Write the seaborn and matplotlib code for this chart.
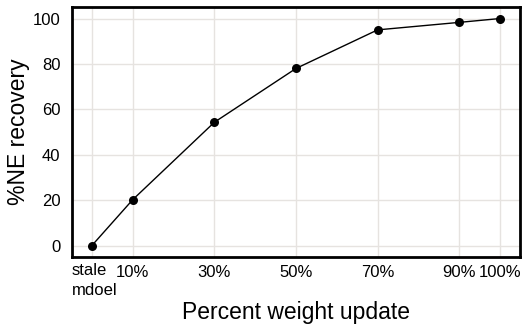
import numpy as np
import pandas as pd
import seaborn as sns
import matplotlib.pyplot as plt

# percent of weights updated (0 = stale model) and %NE recovery
update_pct = [0, 10, 30, 50, 70, 90, 100]
ne_recovery = [0, 20.2, 54.3, 78.0, 95.0, 98.3, 100.0]
tick_labels = ["stale\nmdoel", "10%", "30%", "50%", "70%", "90%", "100%"]
y_ticks = [0, 20, 40, 60, 80, 100]

df = pd.DataFrame({"update": update_pct, "recovery": ne_recovery})

sns.set_theme(style="whitegrid")
plt.rcParams["font.family"] = ["Liberation Sans", "DejaVu Sans"]
plt.rcParams["text.color"] = "black"
plt.rcParams["xtick.color"] = "black"
plt.rcParams["ytick.color"] = "black"
plt.rcParams["axes.labelcolor"] = "black"

fig, ax = plt.subplots(figsize=(5.22, 3.26), dpi=100)
sns.lineplot(data=df, x="update", y="recovery", ax=ax, color="black",
             linewidth=1.0, marker="o", markersize=6.5, markeredgewidth=0)

ax.set_xlim(-5, 105)
ax.set_ylim(-5, 105)
ax.set_xticks(update_pct)
# first label is drawn separately, left-aligned near the axis edge
ax.set_xticklabels([""] + tick_labels[1:], fontsize=12)
ax.annotate(tick_labels[0], xy=(update_pct[0], 0),
            xycoords=ax.get_xaxis_transform(), xytext=(-20, -6),
            textcoords="offset pixels", ha="left", va="top", fontsize=12,
            linespacing=1.4)
ax.set_yticks(y_ticks)
ax.tick_params(axis="y", labelsize=12, pad=2)
ax.tick_params(axis="x", pad=0)
ax.grid(color="#e6e3e0", linewidth=1.0)
for s in ax.spines.values():
    s.set_color("black")
    s.set_linewidth(2.0)

ax.set_xlabel("Percent weight update", fontsize=16.5, labelpad=15)
ax.set_ylabel("%NE recovery", fontsize=16.5, labelpad=2)

fig.subplots_adjust(left=0.137, right=0.997, top=0.978, bottom=0.212)
fig.savefig("out.png", dpi=100)
